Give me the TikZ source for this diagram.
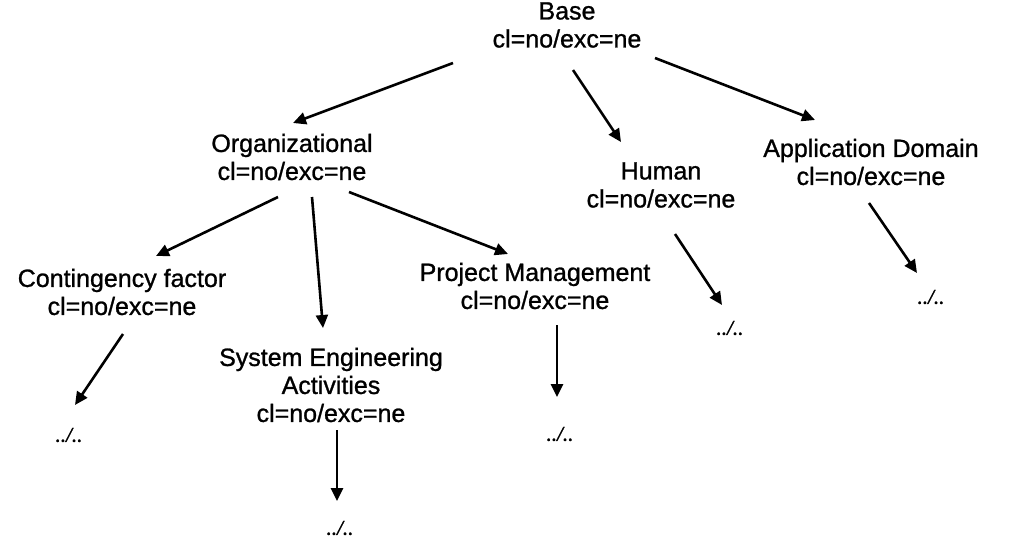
\documentclass[tikz,border=0pt]{standalone}
\usepackage{fontspec}
\setmainfont{Liberation Sans}[UprightFeatures={FakeBold=1.0}]
\newfontfamily\leaffont{Liberation Serif}[ItalicFeatures={FakeBold=1.6}]
\usetikzlibrary{arrows.meta}
\begin{document}
\begin{tikzpicture}[x=1pt,y=-1pt,
  lbl/.style={align=center,inner sep=0pt,font=\fontsize{25}{28}\selectfont},
  leaf/.style={inner sep=0pt,font=\leaffont\itshape\fontsize{21}{24}\selectfont},
  arr/.style={line width=2.6pt,-{Triangle[length=13pt,width=12pt]}}]
\useasboundingbox[fill=white] (0,0) rectangle (1013,541);

% category nodes
\node[lbl] (base)   at (567,25)  {Base\\cl=no/exc=ne};
\node[lbl] (org)    at (292,157) {Organizational\\cl=no/exc=ne};
\node[lbl] (human)  at (661,185) {Human\\cl=no/exc=ne};
\node[lbl] (appdom) at (871,162) {Application Domain\\cl=no/exc=ne};
\node[lbl] (cont)   at (122,292) {Contingency factor\\cl=no/exc=ne};
\node[lbl] (sea)    at (331,385) {System Engineering\\Activities\\cl=no/exc=ne};
\node[lbl] (pm)     at (535,286) {Project Management\\cl=no/exc=ne};

% elided subtrees
\node[leaf] (lc) at (69,435)  {../..};
\node[leaf] (ls) at (340,528) {../..};
\node[leaf] (lp) at (560,434) {../..};
\node[leaf] (lh) at (730,328) {../..};
\node[leaf] (la) at (931,297) {../..};

% connectors
\draw[arr] ([shift={(-114,38)}]base.center) -- ([shift={(1,-34)}]org.center);
\draw[arr] ([shift={(6,45)}]base.center)    -- ([shift={(-40,-43)}]human.center);
\draw[arr] ([shift={(88,33)}]base.center)   -- ([shift={(-56,-42)}]appdom.center);
\draw[arr] ([shift={(-14,40)}]org.center)   -- ([shift={(34,-36)}]cont.center);
\draw[arr] ([shift={(20,40)}]org.center)    -- ([shift={(-8,-57)}]sea.center);
\draw[arr] ([shift={(57,35)}]org.center)    -- ([shift={(-27,-32)}]pm.center);
\draw[arr] ([shift={(1,42)}]cont.center)    -- ([shift={(6,-30)}]lc.center);
\draw[arr] ([shift={(6,45)}]sea.center)     -- ([shift={(-3,-27)}]ls.center);
\draw[arr] ([shift={(22,39)}]pm.center)     -- ([shift={(-3,-37)}]lp.center);
\draw[arr] ([shift={(14,49)}]human.center)  -- ([shift={(-8,-23)}]lh.center);
\draw[arr] ([shift={(-2,41)}]appdom.center) -- ([shift={(-14,-24)}]la.center);
\end{tikzpicture}
\end{document}
